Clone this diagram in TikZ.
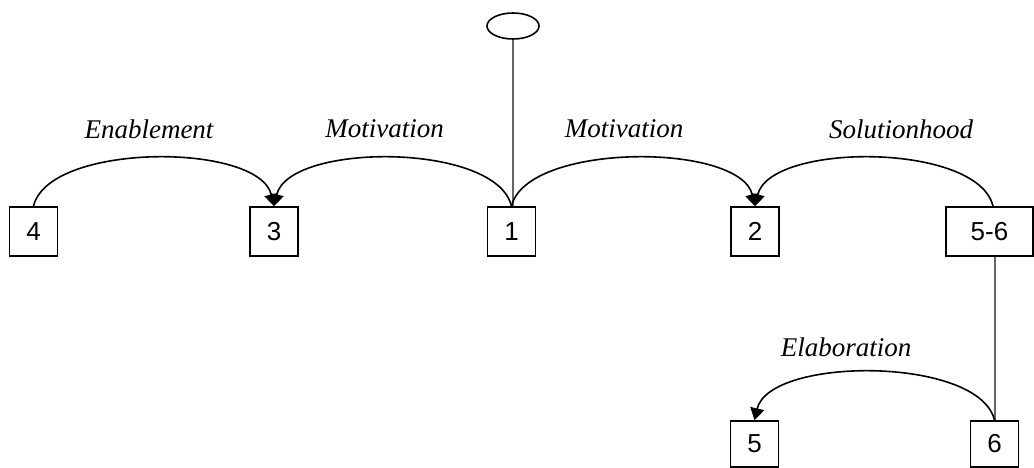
\documentclass[tikz,border=0pt]{standalone}
\usepackage{fontspec}
\setmainfont{Liberation Serif}
\newfontfamily\numfont{Liberation Sans}
\usetikzlibrary{arrows.meta,shapes.geometric}
\tikzset{
  seg/.style={draw, line width=1.6pt, minimum width=48pt, minimum height=49pt, inner sep=0pt, font=\numfont\fontsize{26}{28}\selectfont},
  segwide/.style={seg, minimum width=87pt},
  seglow/.style={seg, minimum height=46pt},
  rel/.style={font=\itshape\fontsize{27}{30}\selectfont, inner sep=0pt},
  arcline/.style={line width=1.6pt},
  arrowline/.style={arcline, -{Triangle[width=14pt,length=12pt]}},
  span/.style={line width=2pt, draw=black!60},
  root/.style={draw, ellipse, line width=1.6pt, minimum width=52pt, minimum height=26pt, inner sep=0pt}
}
\begin{document}
\begin{tikzpicture}[x=1pt,y=-1pt]
\useasboundingbox (0,0) rectangle (1034,468);
\node[root] (e) at (513,26) {};
\node[seg] (b4) at (33.5,231.5) {4};
\node[seg] (b3) at (274,231.5) {3};
\node[seg] (b1) at (511.5,231.5) {1};
\node[seg] (b2) at (755,231.5) {2};
\node[segwide] (b56) at (989.5,231.5) {5-6};
\node[seglow] (b5) at (754.5,444) {5};
\node[seglow] (b6) at (994.5,444) {6};
\node[rel] (l1) at (149,129) {Enablement};
\node[rel] (l2) at (384.5,129) {Motivation};
\node[rel] (l3) at (624,129) {Motivation};
\node[rel] (l4) at (901,129) {Solutionhood};
\node[rel] (l5) at (846,347) {Elaboration};
\coordinate (s56) at ([xshift=3.5pt]b56.north);
\draw[span] (e.south) -- (e.south |- b1.north);
\draw[span] (b6.north) -- (b6.north |- b56.south);
\draw[arrowline] (b4.north) .. controls ([xshift=15pt,yshift=64pt]b4.north) and ([xshift=-15pt,yshift=64pt]b3.north) .. (b3.north);
\draw[arrowline] (b1.north) .. controls ([xshift=-15pt,yshift=64pt]b1.north) and ([xshift=15pt,yshift=64pt]b3.north) .. (b3.north);
\draw[arrowline] (b1.north) .. controls ([xshift=15pt,yshift=64pt]b1.north) and ([xshift=-15pt,yshift=64pt]b2.north) .. (b2.north);
\draw[arrowline] (s56) .. controls ([xshift=-15pt,yshift=64pt]s56) and ([xshift=15pt,yshift=64pt]b2.north) .. (b2.north);
\draw[arrowline] (b6.north) .. controls ([xshift=-15pt,yshift=64pt]b6.north) and ([xshift=15pt,yshift=64pt]b5.north) .. (b5.north);
\end{tikzpicture}
\end{document}
